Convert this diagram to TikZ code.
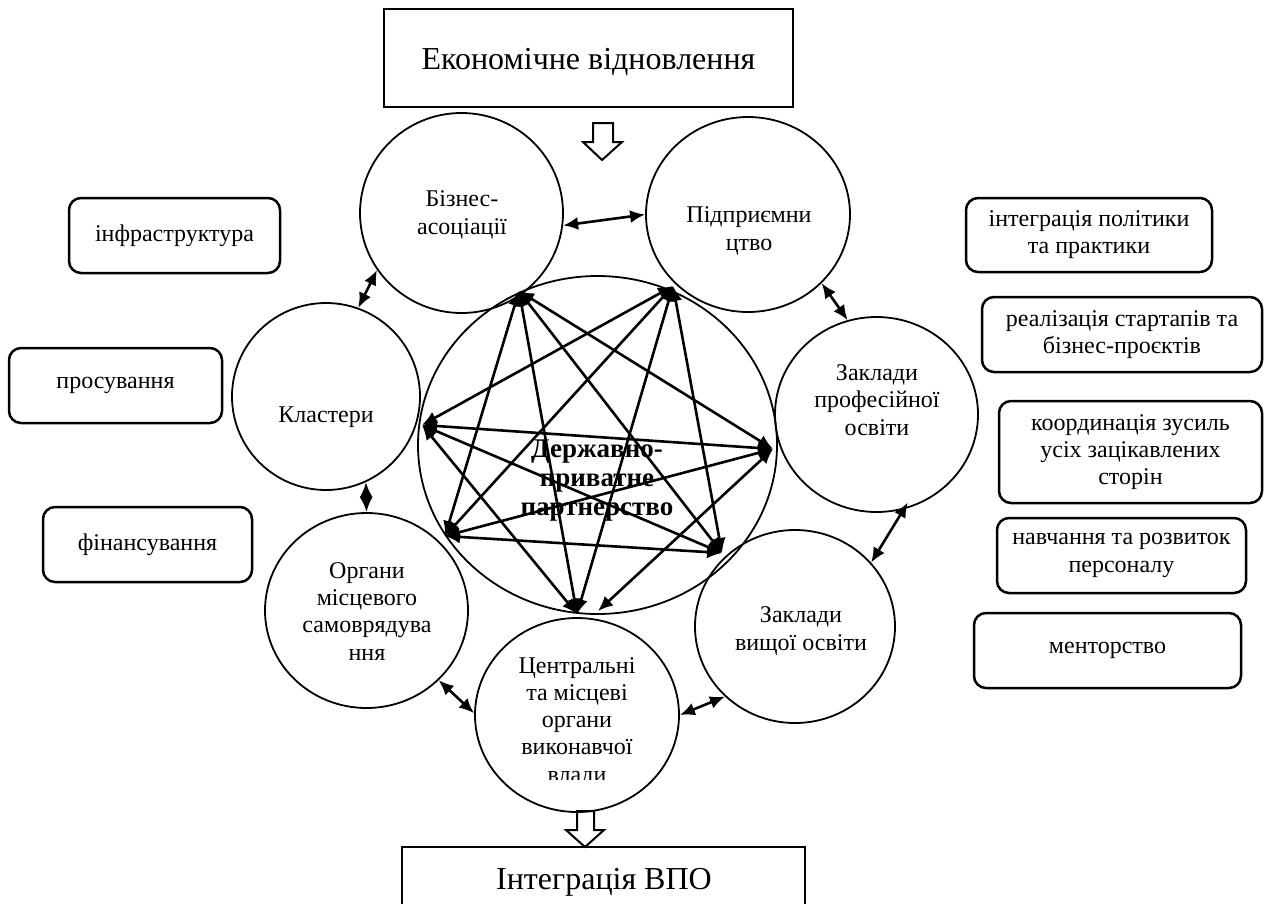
\documentclass[tikz,border=0pt]{standalone}
\usepackage{fontspec}
\setmainfont{Liberation Serif}
\usetikzlibrary{shapes.geometric,arrows.meta}
\begin{document}
\begin{tikzpicture}[x=1pt,y=-1pt,
  circ/.style={draw, ellipse, line width=1.8pt, inner sep=0pt},
  ctext/.style={font=\fontsize{24}{27.2}\selectfont, align=center, anchor=base, inner sep=0pt},
  rbox/.style={draw, rounded corners=12pt, line width=2.5pt, align=center, font=\fontsize{24}{27.2}\selectfont, inner sep=0pt},
  sqbox/.style={draw, line width=2.5pt, inner sep=0pt},
  bigtext/.style={font=\fontsize{32}{36}\selectfont, anchor=base, inner sep=0pt},
  conn/.style={line width=2.6pt, {Latex[length=15pt,width=13pt]}-{Latex[length=15pt,width=13pt]}},
  hollow/.style={draw, line width=2pt, fill=white, line join=miter}
]
\useasboundingbox (0,0) rectangle (1264,903);

% top and bottom boxes
\node[sqbox, minimum width=409pt, minimum height=98pt] (ekon) at (588.5,58) {};
\node[bigtext] (ekontxt) at (588.5,69) {Економічне відновлення};
\node[sqbox, minimum width=403pt, minimum height=60pt] (integr) at (603.5,877) {};
\node[bigtext] (integrtxt) at (604,889) {Інтеграція ВПО};

% hollow arrows
\draw[hollow] (593,123) -- (613,123) -- (613,142) -- (622,142) -- (602,160) -- (583,142) -- (593,142) -- cycle;
\draw[hollow] (577,811) -- (594,811) -- (594,830) -- (604,830) -- (585,847) -- (566,830) -- (577,830) -- cycle;

% big central circle
\node[circ, minimum width=359pt, minimum height=338pt] (big) at (597.5,445) {};

% outer circles
\node[circ, minimum width=203pt, minimum height=200pt] (biz) at (461.5,213) {};
\node[circ, minimum width=204pt, minimum height=195pt] (pid) at (748,214.5) {};
\node[circ, minimum width=188pt, minimum height=187pt] (klas) at (326,396.5) {};
\node[circ, minimum width=203pt, minimum height=195pt] (prof) at (876.5,414.5) {};
\node[circ, minimum width=200pt, minimum height=193pt] (vyshch) at (795,626.5) {};
\node[circ, minimum width=204pt, minimum height=194pt] (tsentr) at (577,715) {};
\node[circ, minimum width=203pt, minimum height=195pt] (orhany) at (366.5,610.5) {};

% circle labels (anchor = baseline of the last line)
\node[ctext] (biztxt) at (462,234) {Бізнес-\\асоціації};
\node[ctext] (pidtxt) at (749,250) {Підприємни\\цтво};
\node[ctext] (klastxt) at (326,422) {Кластери};
\node[ctext] (proftxt) at (877,435) {Заклади\\професійної\\освіти};
\node[ctext] (vyshchtxt) at (801,650) {Заклади\\вищої освіти};
\node[ctext] (orhanytxt) at (367,660) {Органи\\місцевого\\самоврядува\\ння};
\begin{scope}
\clip (0,0) rectangle (1264,779);
\node[ctext] (tsentrtxt) at (577,782) {Центральні\\та місцеві\\органи\\виконавчої\\влади};
\end{scope}

% rounded boxes
\node[rbox, minimum width=211pt, minimum height=75pt] (infra) at (174.5,235.5) {інфраструктура};
\node[rbox, minimum width=213pt, minimum height=75pt] (prosuv) at (115.5,385.5) {просування};
\node[rbox, minimum width=209pt, minimum height=75pt] (finans) at (147.5,544.5) {фінансування};
\node[rbox, minimum width=246pt, minimum height=74pt] (intehr) at (1089,235) {інтеграція політики\\та практики};
\node[rbox, minimum width=280pt, minimum height=75pt] (realiz) at (1122,334.5) {реалізація стартапів та\\бізнес-проєктів};
\node[rbox, minimum width=263pt, minimum height=102pt] (koord) at (1130.5,452) {координація зусиль\\усіх зацікавлених\\сторін};
\node[rbox, minimum width=249pt, minimum height=75pt] (navch) at (1121.5,555.5) {навчання та розвиток\\персоналу};
\node[rbox, minimum width=267pt, minimum height=75pt] (mentor) at (1107.5,650.5) {менторство};

% short arrows between outer circles
\draw[conn] (biz.-7) -- (pid.180);
\draw[conn] (biz.-146) -- (klas.70);
\draw[conn] (pid.-43) -- (prof.107);
\draw[conn] (klas.-65) -- (orhany.90);
\draw[conn, shorten <=-8pt] (prof.-74) -- (vyshch.40);
\draw[conn] (orhany.-44) -- (tsentr.179);
\draw[conn] (tsentr.0) -- (vyshch.-135);

% points on the central circle
\coordinate (pA) at (519,291);
\coordinate (pB) at (673,286);
\coordinate (pC) at (422,425);
\coordinate (pD) at (773,449);
\coordinate (pE) at (445,536);
\coordinate (pF) at (722,553);
\coordinate (pG) at (577,614);
\coordinate (pGb) at (598,611);

% star of connectors
\draw[conn] (pA) -- (pE);
\draw[conn] (pA) -- (pG);
\draw[conn] (pA) -- (pF);
\draw[conn] (pA) -- (pD);
\draw[conn] (pB) -- (pC);
\draw[conn] (pB) -- (pE);
\draw[conn] (pB) -- (pG);
\draw[conn] (pB) -- (pF);
\draw[conn] (pC) -- (pD);
\draw[conn] (pC) -- (pF);
\draw[conn] (pC) -- (pG);
\draw[conn] (pD) -- (pE);
\draw[conn] (pD) -- (pGb);
\draw[conn] (pE) -- (pF);

% central label
\node[font=\fontsize{27}{29}\selectfont\bfseries, align=center, anchor=base, inner sep=0pt] (ppp) at (597,515) {Державно-\\приватне\\партнерство};
\end{tikzpicture}
\end{document}
